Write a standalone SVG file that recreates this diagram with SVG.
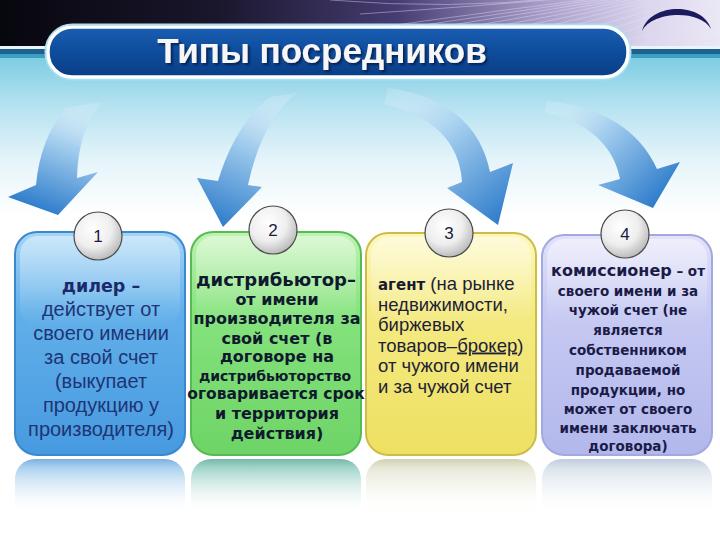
<svg xmlns="http://www.w3.org/2000/svg" width="720" height="540" viewBox="0 0 720 540">
<defs>
<linearGradient id="hdr" x1="0" y1="0" x2="1" y2="0">
<stop offset="0" stop-color="#07070e"/>
<stop offset="0.3" stop-color="#1a162c"/>
<stop offset="0.55" stop-color="#463c72"/>
<stop offset="0.75" stop-color="#a79bc8"/>
<stop offset="0.9" stop-color="#dcd6ee"/>
<stop offset="1" stop-color="#ebe8f5"/>
</linearGradient>
<linearGradient id="sky" x1="0" y1="56" x2="0" y2="215" gradientUnits="userSpaceOnUse">
<stop offset="0" stop-color="#7ccce3"/>
<stop offset="0.3" stop-color="#b3e1f0"/>
<stop offset="0.65" stop-color="#e4f4fa"/>
<stop offset="1" stop-color="#ffffff"/>
</linearGradient>
<linearGradient id="ttl" x1="0" y1="0" x2="0" y2="1">
<stop offset="0" stop-color="#1a5eb2"/>
<stop offset="0.5" stop-color="#0e4c9c"/>
<stop offset="1" stop-color="#0a3e86"/>
</linearGradient>
<linearGradient id="a1" x1="88" y1="100" x2="45" y2="212" gradientUnits="userSpaceOnUse">
<stop offset="0" stop-color="#e8f4fb" stop-opacity="0.2"/>
<stop offset="0.4" stop-color="#a7d0ef"/>
<stop offset="1" stop-color="#2f7dcb"/>
</linearGradient>
<linearGradient id="a2" x1="284" y1="92" x2="222" y2="226" gradientUnits="userSpaceOnUse">
<stop offset="0" stop-color="#e8f4fb" stop-opacity="0.2"/>
<stop offset="0.4" stop-color="#a7d0ef"/>
<stop offset="1" stop-color="#2f7dcb"/>
</linearGradient>
<linearGradient id="a3" x1="388" y1="92" x2="497" y2="224" gradientUnits="userSpaceOnUse">
<stop offset="0" stop-color="#e8f4fb" stop-opacity="0.2"/>
<stop offset="0.4" stop-color="#a7d0ef"/>
<stop offset="1" stop-color="#2f7dcb"/>
</linearGradient>
<linearGradient id="a4" x1="547" y1="103" x2="652" y2="207" gradientUnits="userSpaceOnUse">
<stop offset="0" stop-color="#e8f4fb" stop-opacity="0.2"/>
<stop offset="0.4" stop-color="#a7d0ef"/>
<stop offset="1" stop-color="#2f7dcb"/>
</linearGradient>
<linearGradient id="g1" x1="0" y1="0" x2="0" y2="1">
<stop offset="0" stop-color="#a4d5f6"/>
<stop offset="0.35" stop-color="#62b0ea"/>
<stop offset="1" stop-color="#479ae0"/>
</linearGradient>
<linearGradient id="g2" x1="0" y1="0" x2="0" y2="1">
<stop offset="0" stop-color="#bff3b2"/>
<stop offset="0.35" stop-color="#86e37e"/>
<stop offset="1" stop-color="#6ed466"/>
</linearGradient>
<linearGradient id="g3" x1="0" y1="0" x2="0" y2="1">
<stop offset="0" stop-color="#fcf8bd"/>
<stop offset="0.35" stop-color="#f4ea82"/>
<stop offset="1" stop-color="#eee062"/>
</linearGradient>
<linearGradient id="g4" x1="0" y1="0" x2="0" y2="1">
<stop offset="0" stop-color="#e2e2fa"/>
<stop offset="0.35" stop-color="#c6c9f2"/>
<stop offset="1" stop-color="#b3b8ec"/>
</linearGradient>
<linearGradient id="gloss" x1="0" y1="0" x2="0" y2="1">
<stop offset="0" stop-color="#ffffff" stop-opacity="0.45"/>
<stop offset="1" stop-color="#ffffff" stop-opacity="0"/>
</linearGradient>
<linearGradient id="r1" x1="0" y1="0" x2="0" y2="1">
<stop offset="0" stop-color="#4f97d6" stop-opacity="0.75"/>
<stop offset="0.15" stop-color="#8cc0e8" stop-opacity="0.7"/>
<stop offset="0.9" stop-color="#ffffff" stop-opacity="0"/>
</linearGradient>
<linearGradient id="r2" x1="0" y1="0" x2="0" y2="1">
<stop offset="0" stop-color="#4aa08c" stop-opacity="0.75"/>
<stop offset="0.15" stop-color="#7cc4b8" stop-opacity="0.7"/>
<stop offset="0.9" stop-color="#ffffff" stop-opacity="0"/>
</linearGradient>
<linearGradient id="r3" x1="0" y1="0" x2="0" y2="1">
<stop offset="0" stop-color="#b9b886" stop-opacity="0.65"/>
<stop offset="0.15" stop-color="#dcdcc4" stop-opacity="0.65"/>
<stop offset="0.9" stop-color="#ffffff" stop-opacity="0"/>
</linearGradient>
<linearGradient id="r4" x1="0" y1="0" x2="0" y2="1">
<stop offset="0" stop-color="#9fb0cf" stop-opacity="0.65"/>
<stop offset="0.15" stop-color="#c8d6e2" stop-opacity="0.65"/>
<stop offset="0.9" stop-color="#ffffff" stop-opacity="0"/>
</linearGradient>
<radialGradient id="ball" cx="0.4" cy="0.35" r="0.7">
<stop offset="0" stop-color="#ffffff"/>
<stop offset="0.55" stop-color="#eeeeee"/>
<stop offset="1" stop-color="#b4b4b4"/>
</radialGradient>
<filter id="tshadow" x="-5%" y="-20%" width="110%" height="150%">
<feDropShadow dx="2" dy="2" stdDeviation="0.8" flood-color="#061a44" flood-opacity="0.8"/>
</filter>
</defs>
<style>
.box{stroke-width:2}
.num{font-family:"Liberation Sans",Arial,sans-serif;font-size:17px;fill:#1b1b45;text-anchor:middle}
.ball{fill:url(#ball);stroke:#4a4a4a;stroke-width:1.2}
.t1{font-family:"Liberation Sans",Arial,sans-serif;font-size:20px;fill:#1f3474;text-anchor:middle}
.b1{font-family:"DejaVu Sans",Verdana,sans-serif;font-weight:bold;font-size:17.5px;fill:#1b2a6b;text-anchor:middle}
.t2{font-family:"DejaVu Sans",Verdana,sans-serif;font-weight:bold;font-size:16px;fill:#0f1a2e;text-anchor:middle}
.t2.big{font-size:18px}
.t2.s1{font-size:14px}
.t2.s2{font-size:15.5px}
.t3{font-family:"Liberation Sans",Arial,sans-serif;font-size:18.5px;fill:#1e1e36}
.t4{font-family:"DejaVu Sans",Verdana,sans-serif;font-weight:bold;font-size:13.5px;fill:#1b1b48;text-anchor:middle}
.streak{fill:none;stroke:#e4def4;stroke-width:0.8;stroke-opacity:0.55}
</style>

<!-- background -->
<rect x="0" y="0" width="720" height="540" fill="#ffffff"/>
<rect x="0" y="56" width="720" height="160" fill="url(#sky)"/>
<rect x="0" y="0" width="720" height="47" fill="url(#hdr)"/>
<g>
<path class="streak" d="M250,47 Q420,20 600,-2"/>
<path class="streak" d="M280,47 Q440,22 610,-2"/>
<path class="streak" d="M310,47 Q460,24 620,-2"/>
<path class="streak" d="M340,47 Q480,26 630,-2"/>
<path class="streak" d="M370,47 Q500,28 640,-2"/>
<path class="streak" d="M400,47 Q520,30 650,-2"/>
<path class="streak" d="M430,47 Q540,32 660,-2"/>
<path class="streak" d="M460,47 Q560,34 670,-2"/>
<path class="streak" d="M490,47 Q580,36 685,-2"/>
<path class="streak" d="M520,47 Q600,38 700,-2"/>
<path class="streak" d="M550,47 Q620,40 715,-2"/>
<path class="streak" d="M580,47 Q650,40 720,10"/>
<path class="streak" d="M620,47 Q680,42 720,25"/>
<path class="streak" d="M660,47 Q700,44 720,38"/>
<path class="streak" d="M330,0 Q450,10 560,-2"/>
<path class="streak" d="M360,14 Q480,6 570,-2"/>
</g>
<rect x="0" y="46" width="720" height="3" fill="#e8f6fb"/>
<rect x="0" y="49" width="720" height="5" fill="#1f618e"/>
<rect x="0" y="54" width="720" height="4" fill="#3c9fc2"/>
<path d="M642,31 C650,2 703,2 711,29 C700,9 652,11 642,31 Z" fill="#1b1b5e"/>

<!-- title -->
<g id="title">
<rect x="45.5" y="24.5" width="585" height="55" rx="27" fill="none" stroke="#a9e1f1" stroke-width="2"/>
<rect x="48" y="27" width="580" height="50" rx="24" fill="url(#ttl)" stroke="#ffffff" stroke-width="3.5"/>
<text x="322" y="63" font-family="'Liberation Sans',Arial,sans-serif" font-weight="bold" font-size="35" fill="#f6f6f6" text-anchor="middle" filter="url(#tshadow)">Типы посредников</text>
</g>

<!-- connectors -->
<g id="connectors">
<path d="M65,108 Q40,140 36,185 L8,197 L58,215 L98,172 L77,178 Q78,130 102,102 Z" fill="url(#a1)"/>
<path d="M270,97 Q235,125 218,181 L197,178 L223,227 L262,187 L248,185 Q262,120 297,93 Z" fill="url(#a2)"/>
<path d="M388,88 Q475,100 490,172 L513,163 L498,225 L447,188 L462,182 Q458,122 384,104 Z" fill="url(#a3)"/>
<path d="M547,101 Q630,110 657,169 L680,162 L653,208 L598,185 L620,179 Q610,128 545,112 Z" fill="url(#a4)"/>
</g>

<!-- reflections -->
<rect x="15" y="459" width="170" height="62" rx="20" fill="url(#r1)"/>
<rect x="191" y="459" width="170" height="62" rx="20" fill="url(#r2)"/>
<rect x="366" y="459" width="170" height="62" rx="20" fill="url(#r3)"/>
<rect x="542" y="459" width="170" height="62" rx="20" fill="url(#r4)"/>

<!-- node 1 -->
<g id="node1">
<rect class="box" x="15" y="232" width="170" height="223" rx="22" fill="url(#g1)" stroke="#3b88cf"/>
<rect x="20" y="236" width="160" height="90" rx="18" fill="url(#gloss)"/>
<circle class="ball" cx="98" cy="236" r="24"/>
<text class="num" x="98" y="242">1</text>
<text class="b1" x="101" y="292">дилер –</text>
<text class="t1" x="101" y="316">действует от</text>
<text class="t1" x="101" y="340">своего имении</text>
<text class="t1" x="101" y="364">за свой счет</text>
<text class="t1" x="101" y="388">(выкупает</text>
<text class="t1" x="101" y="412">продукцию у</text>
<text class="t1" x="101" y="436">производителя)</text>
</g>

<!-- node 2 -->
<g id="node2">
<rect class="box" x="191" y="232" width="170" height="223" rx="22" fill="url(#g2)" stroke="#57bb55"/>
<rect x="196" y="236" width="160" height="90" rx="18" fill="url(#gloss)"/>
<circle class="ball" cx="273" cy="230" r="24"/>
<text class="num" x="273" y="236">2</text>
<text class="t2 big" x="276" y="286">дистрибьютор–</text>
<text class="t2" x="277" y="305">от имени</text>
<text class="t2" x="277" y="324">производителя за</text>
<text class="t2" x="277" y="344">свой счет (в</text>
<text class="t2" x="277" y="362">договоре на</text>
<text class="t2 s1" x="275" y="381">дистрибьюторство</text>
<text class="t2 s2" x="276" y="399">оговаривается срок</text>
<text class="t2" x="277" y="419">и территория</text>
<text class="t2" x="277" y="439">действия)</text>
</g>

<!-- node 3 -->
<g id="node3">
<rect class="box" x="366" y="233" width="170" height="222" rx="22" fill="url(#g3)" stroke="#cdbd48"/>
<rect x="371" y="237" width="160" height="90" rx="18" fill="url(#gloss)"/>
<circle class="ball" cx="449" cy="233" r="24"/>
<text class="num" x="449" y="239">3</text>
<text class="t3" x="378" y="290"><tspan font-family="'DejaVu Sans',Verdana,sans-serif" font-weight="bold" font-size="15" fill="#1a1a2e">агент</tspan> (на рынке</text>
<text class="t3" x="378" y="310.5">недвижимости,</text>
<text class="t3" x="378" y="331">биржевых</text>
<text class="t3" x="378" y="351.5">товаров–<tspan style="text-decoration:underline">брокер</tspan>)</text>
<text class="t3" x="378" y="372">от чужого имени</text>
<text class="t3" x="378" y="392.5">и за чужой счет</text>
</g>

<!-- node 4 -->
<g id="node4">
<rect class="box" x="542" y="235" width="170" height="220" rx="22" fill="url(#g4)" stroke="#a3a8df"/>
<rect x="547" y="239" width="160" height="88" rx="18" fill="url(#gloss)"/>
<circle class="ball" cx="625" cy="234" r="24"/>
<text class="num" x="625" y="240">4</text>
<text class="t4" x="628" y="276"><tspan font-size="16">комиссионер</tspan> – от</text>
<text class="t4" x="628" y="296">своего имени и за</text>
<text class="t4" x="628" y="315">чужой счет (не</text>
<text class="t4" x="628" y="335">является</text>
<text class="t4" x="628" y="355">собственником</text>
<text class="t4" x="628" y="375">продаваемой</text>
<text class="t4" x="628" y="395">продукции, но</text>
<text class="t4" x="628" y="414">может от своего</text>
<text class="t4" x="628" y="433">имени заключать</text>
<text class="t4" x="628" y="451">договора)</text>
</g>
</svg>
